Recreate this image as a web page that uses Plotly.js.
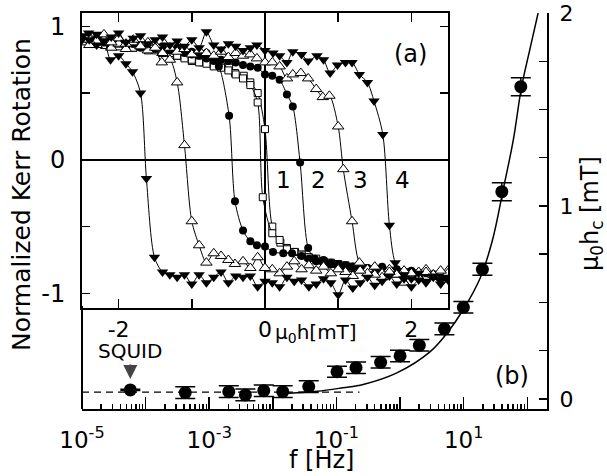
<!DOCTYPE html>
<html>
<head>
<meta charset="utf-8">
<script src="https://cdn.plot.ly/plotly-3.0.1.min.js"></script>
<style>html,body{margin:0;padding:0;background:#fff;}#chart{width:607px;height:476px;}</style>
</head>
<body>
<div id="chart"></div>
<script>
// ---------- (b) coercive field vs frequency ----------
const freqHz = [5.75e-5, 4.2e-4, 2.03e-3, 3.7e-3, 7.2e-3, 0.0143, 0.0367, 0.102, 0.203, 0.495, 1.0, 2.01, 4.98, 9.9, 19.7, 39.8, 79.1];
const hcMilliTesla = [0.047, 0.033, 0.038, 0.021, 0.043, 0.038, 0.064, 0.141, 0.162, 0.19, 0.223, 0.278, 0.363, 0.475, 0.672, 1.074, 1.618];
const hcError = [0.003, 0.03, 0.03, 0.03, 0.03, 0.03, 0.03, 0.028, 0.03, 0.03, 0.03, 0.03, 0.03, 0.03, 0.031, 0.047, 0.047];

const fitFreq = [0.0178, 0.05, 0.126, 0.263, 0.891, 2.95, 5.5, 9.77, 18.2, 28.2, 41.7, 60.3, 81.3, 109.6, 148];
const fitHc   = [0.030, 0.040, 0.058, 0.075, 0.135, 0.244, 0.342, 0.461, 0.627, 0.82, 1.083, 1.342, 1.617, 1.81, 2.0];

const squidLineFreq = [1e-5, 0.23];
const squidLineHc = [0.035, 0.035];

// ---------- (a) Kerr hysteresis loops ----------
// loop 4 (filled down triangles)
const h4Up = [-2.5,-2.4,-2.3,-2.2,-2.1,-2.0,-1.9,-1.8,-1.7,-1.6,-1.5,-1.4,-1.3,-1.2,-1.1,-1.0,-0.9,-0.8,-0.7,-0.6,-0.5,-0.4,-0.3,-0.2,-0.11,0,0.11,0.2,0.3,0.38,0.5,0.59,0.71,0.8,0.89,0.99,1.1,1.19,1.29,1.4,1.49,1.61,1.7,1.78,1.9,2.0,2.1,2.2,2.3,2.4,2.5];
const k4Up = [0.93,0.9,0.94,0.89,0.92,0.95,0.88,0.91,0.93,0.87,0.9,0.92,0.86,0.89,0.85,0.9,0.84,0.96,0.86,0.83,0.87,0.85,0.82,0.84,0.86,0.82,0.80,0.78,0.73,0.81,0.79,0.74,0.78,0.75,0.65,0.71,0.73,0.73,0.64,0.58,0.44,0.19,-0.49,-0.77,-0.86,-0.89,-0.85,-0.91,-0.87,-0.9,-0.88];
const h4Dn = [2.5,2.4,2.3,2.2,2.1,2.0,1.9,1.8,1.7,1.6,1.5,1.4,1.3,1.2,1.1,1.0,0.9,0.8,0.7,0.6,0.5,0.4,0.3,0.2,0.1,0,-0.1,-0.2,-0.3,-0.4,-0.5,-0.6,-0.7,-0.8,-0.9,-1.0,-1.1,-1.2,-1.3,-1.4,-1.51,-1.62,-1.7,-1.81,-1.9,-2.0,-2.11,-2.2,-2.3,-2.41,-2.5];
const k4Dn = [-0.9,-0.93,-0.88,-0.92,-0.9,-0.95,-0.89,-0.93,-0.87,-0.91,-0.94,-0.88,-0.92,-0.96,-0.9,-1.01,-0.92,-0.89,-0.93,-0.95,-0.9,-0.91,-0.88,-0.95,-0.92,-0.91,-0.95,-0.87,-0.88,-0.87,-0.92,-0.84,-0.88,-0.92,-0.86,-0.93,-0.86,-0.88,-0.86,-0.84,-0.73,-0.14,0.5,0.66,0.72,0.78,0.75,0.89,0.86,0.95,0.9];
// loop 3 (open up triangles)
const h3Up = [-2.5,-2.4,-2.3,-2.2,-2.1,-2.0,-1.9,-1.8,-1.7,-1.6,-1.5,-1.4,-1.3,-1.2,-1.1,-1.0,-0.9,-0.8,-0.7,-0.6,-0.5,-0.4,-0.3,-0.2,-0.11,0,0.1,0.2,0.3,0.38,0.49,0.59,0.7,0.79,0.88,1.0,1.07,1.19,1.29,1.4,1.5,1.6,1.7,1.8,1.9,2.0,2.1,2.2,2.3,2.4,2.5];
const k3Up = [0.88,0.92,0.86,0.9,0.84,0.87,0.83,0.88,0.85,0.82,0.86,0.8,0.84,0.81,0.83,0.79,0.82,0.8,0.78,0.81,0.77,0.8,0.78,0.79,0.76,0.73,0.73,0.70,0.61,0.64,0.65,0.61,0.53,0.47,0.48,0.25,-0.07,-0.46,-0.77,-0.82,-0.8,-0.85,-0.82,-0.86,-0.83,-0.87,-0.84,-0.82,-0.86,-0.84,-0.83];
const h3Dn = [2.5,2.4,2.3,2.2,2.1,2.0,1.9,1.8,1.7,1.6,1.5,1.4,1.3,1.2,1.1,1.0,0.9,0.8,0.7,0.6,0.5,0.4,0.3,0.2,0.1,0,-0.1,-0.2,-0.3,-0.41,-0.5,-0.6,-0.7,-0.8,-0.9,-1.0,-1.1,-1.2,-1.3,-1.41,-1.5,-1.6,-1.7,-1.8,-1.9,-2.0,-2.1,-2.2,-2.3,-2.4,-2.5];
const k3Dn = [-0.85,-0.83,-0.86,-0.84,-0.88,-0.85,-0.92,-0.86,-0.84,-0.88,-0.86,-0.85,-0.83,-0.87,-0.84,-0.82,-0.85,-0.8,-0.83,-0.79,-0.82,-0.76,-0.8,-0.85,-0.82,-0.81,-0.73,-0.81,-0.76,-0.78,-0.75,-0.72,-0.70,-0.77,-0.64,-0.46,0.11,0.58,0.75,0.73,0.84,0.88,0.85,0.9,0.87,0.91,0.88,0.94,0.89,0.86,0.9];
// loop 2 (filled circles)
const h2Up = [-2.5,-2.4,-2.3,-2.2,-2.1,-2.0,-1.9,-1.8,-1.7,-1.6,-1.5,-1.4,-1.3,-1.2,-1.1,-1.0,-0.9,-0.8,-0.7,-0.6,-0.5,-0.4,-0.3,-0.2,-0.1,0,0.1,0.2,0.3,0.38,0.48,0.59,0.68,0.8,0.9,1.0,1.1,1.2,1.3,1.4,1.5,1.6,1.7,1.8,1.9,2.0,2.1,2.2,2.3,2.4,2.5];
const k2Up = [0.9,0.87,0.91,0.88,0.86,0.89,0.85,0.87,0.84,0.86,0.83,0.85,0.82,0.84,0.8,0.81,0.79,0.8,0.77,0.75,0.74,0.73,0.71,0.7,0.69,0.64,0.63,0.6,0.49,0.40,-0.02,-0.66,-0.74,-0.75,-0.77,-0.78,-0.79,-0.8,-0.79,-0.81,-0.82,-0.8,-0.83,-0.82,-0.84,-0.83,-0.85,-0.84,-0.86,-0.85,-0.87];
const h2Dn = [2.5,2.4,2.3,2.2,2.1,2.0,1.9,1.8,1.7,1.6,1.5,1.4,1.3,1.2,1.1,1.0,0.9,0.8,0.7,0.6,0.5,0.37,0.25,0.11,0,-0.11,-0.2,-0.3,-0.41,-0.49,-0.63,-0.7,-0.8,-0.9,-1.0,-1.1,-1.2,-1.3,-1.4,-1.5,-1.6,-1.7,-1.8,-1.9,-2.0,-2.1,-2.2,-2.3,-2.4,-2.5];
const k2Dn = [-0.88,-0.86,-0.87,-0.85,-0.86,-0.84,-0.85,-0.83,-0.84,-0.82,-0.83,-0.81,-0.82,-0.8,-0.81,-0.79,-0.78,-0.77,-0.76,-0.74,-0.72,-0.70,-0.70,-0.69,-0.65,-0.64,-0.61,-0.53,-0.31,0.33,0.70,0.74,0.76,0.78,0.79,0.81,0.82,0.83,0.84,0.85,0.84,0.86,0.87,0.86,0.88,0.87,0.89,0.88,0.9,0.89];
// loop 1 (open squares)
const h1Up = [-2.5,-2.4,-2.3,-2.2,-2.1,-2.0,-1.9,-1.8,-1.7,-1.6,-1.5,-1.4,-1.3,-1.2,-1.1,-1.0,-0.85,-0.7,-0.6,-0.49,-0.41,-0.29,-0.2,-0.1,0,0.1,0.21,0.3,0.41,0.5,0.59,0.7,0.8,0.9,1.0,1.1,1.2,1.3,1.4,1.5,1.6,1.7,1.8,1.9,2.0,2.1,2.2,2.3,2.4,2.5];
const k1Up = [0.9,0.88,0.89,0.86,0.87,0.85,0.86,0.84,0.85,0.82,0.83,0.8,0.81,0.78,0.77,0.74,0.73,0.71,0.70,0.69,0.65,0.63,0.58,0.50,0.23,-0.50,-0.62,-0.66,-0.69,-0.71,-0.73,-0.75,-0.76,-0.78,-0.79,-0.8,-0.81,-0.82,-0.82,-0.83,-0.84,-0.84,-0.85,-0.85,-0.86,-0.86,-0.87,-0.87,-0.88,-0.88];
const h1Dn = [2.5,2.4,2.3,2.2,2.1,2.0,1.9,1.8,1.7,1.6,1.5,1.4,1.3,1.2,1.1,1.0,0.9,0.8,0.7,0.6,0.5,0.4,0.3,0.2,0.1,-0.03,-0.1,-0.2,-0.3,-0.4,-0.5,-0.6,-0.7,-0.8,-0.9,-1.0,-1.1,-1.2,-1.3,-1.4,-1.5,-1.6,-1.7,-1.8,-1.9,-2.0,-2.1,-2.2,-2.3,-2.4,-2.5];
const k1Dn = [-0.87,-0.88,-0.86,-0.87,-0.85,-0.86,-0.84,-0.85,-0.83,-0.84,-0.82,-0.83,-0.81,-0.8,-0.79,-0.78,-0.77,-0.76,-0.74,-0.73,-0.71,-0.69,-0.67,-0.6,-0.55,-0.28,0.43,0.56,0.61,0.64,0.67,0.69,0.70,0.72,0.73,0.75,0.76,0.78,0.8,0.81,0.82,0.83,0.85,0.84,0.86,0.87,0.86,0.88,0.89,0.88,0.9];

// ---------- tick labels ----------
const decadeVals = [1e-5, 1e-4, 1e-3, 1e-2, 1e-1, 1, 10, 100];
const decadeText = ['10<sup>-5</sup>', '', '10<sup>-3</sup>', '', '10<sup>-1</sup>', '', '10<sup>1</sup>', ''];
const hcTickVals = [0, 0.25, 0.5, 0.75, 1, 1.25, 1.5, 1.75, 2];
const hcTickText = ['0', '', '', '', '1', '', '', '', '2'];
const fieldTickVals = [-2, -1, 0, 1, 2];
const fieldTickText = ['-2', '', '0', '', '2'];
const kerrTickVals = [-1, -0.5, 0, 0.5, 1];
const kerrTickText = ['-1', '', '0', '', '1'];
const loopLabels = ['1', '2', '3', '4'];

const minorVals = [];
for (let e = -5; e <= 2; e++) for (let m = 2; m <= 9; m++) minorVals.push(m * Math.pow(10, e));

const FONT = 'DejaVu Sans, Liberation Sans, sans-serif';
const lineStyle = {color: '#000', width: 1, shape: 'spline', smoothing: 0.8};

function loop(x, y, marker) {
  return {x: x, y: y, xaxis: 'x2', yaxis: 'y2', type: 'scatter', mode: 'lines+markers',
          line: lineStyle, marker: marker, hoverinfo: 'skip'};
}
const mSquare = {symbol: 'square', size: 7, color: '#fff', line: {color: '#000', width: 1}};
const mCircle = {symbol: 'circle', size: 8, color: '#000'};
const mTriUp = {symbol: 'triangle-up', size: 10, color: '#fff', line: {color: '#000', width: 1}};
const mTriDn = {symbol: 'triangle-down', size: 10, color: '#000'};

const traces = [
  loop(h1Up, k1Up, mSquare), loop(h1Dn, k1Dn, mSquare),
  loop(h2Up, k2Up, mCircle), loop(h2Dn, k2Dn, mCircle),
  loop(h3Up, k3Up, mTriUp), loop(h3Dn, k3Dn, mTriUp),
  loop(h4Up, k4Up, mTriDn), loop(h4Dn, k4Dn, mTriDn),
  {x: squidLineFreq, y: squidLineHc, xaxis: 'x', yaxis: 'y', mode: 'lines',
   line: {color: '#000', width: 1.2, dash: '7px,5px'}},
  {x: fitFreq, y: fitHc, xaxis: 'x', yaxis: 'y', mode: 'lines',
   line: {color: '#000', width: 1.5, shape: 'spline'}},
  {x: freqHz, y: hcMilliTesla, xaxis: 'x', yaxis: 'y', mode: 'markers',
   marker: {symbol: 'circle', size: 13, color: '#000'},
   error_y: {type: 'data', array: hcError, visible: true, width: 10, thickness: 1.5, color: '#000'}}
];

// pixel helpers for the plot area (l=82, t=13, w=465, h=396)
const px = v => (v - 82) / 465;
const py = v => (409 - v) / 396;
function label(x, y, text, size, extra) {
  return Object.assign({xref: 'paper', yref: 'paper', x: px(x), y: py(y), text: text, showarrow: false,
                        xanchor: 'center', yanchor: 'middle', font: {size: size}}, extra || {});
}

const annotations = [
  label(410, 54, '(a)', 24),
  label(512, 376, '(b)', 24),
  label(283, 180, loopLabels[0], 23),
  label(318, 180, loopLabels[1], 23),
  label(360, 180, loopLabels[2], 23),
  label(402, 180, loopLabels[3], 23),
  label(273, 333, '\u03bc<sub>0</sub>h[mT]', 20, {xanchor: 'left'}),
  label(321, 460, 'f [Hz]', 24),
  label(22, 195, 'Normalized Kerr Rotation', 25, {textangle: -90}),
  label(591, 214, '\u03bc<sub>0</sub>h<sub>c</sub> [mT]', 24, {textangle: -90}),
  {xref: 'x', yref: 'y', x: Math.log10(freqHz[0]), y: hcMilliTesla[0], text: 'SQUID', showarrow: true,
   arrowhead: 2, arrowsize: 1.4, arrowwidth: 2, ax: 0, ay: -39, standoff: 11, font: {size: 20}}
];

const axisCommon = {showline: true, linewidth: 2, linecolor: '#000', ticks: 'inside', tickcolor: '#000',
                    tickwidth: 1.5, showgrid: false, tickmode: 'array'};

const layout = {
  width: 607, height: 476,
  margin: {l: 82, r: 60, t: 13, b: 67, pad: 0},
  font: {family: FONT, size: 22, color: '#000'},
  paper_bgcolor: '#fff', plot_bgcolor: 'rgba(0,0,0,0)',
  showlegend: false,
  xaxis: Object.assign({}, axisCommon, {type: 'log', domain: [0, 1], range: [-5, 2.31], anchor: 'y',
    ticklen: 12, tickvals: decadeVals, ticktext: decadeText, tickfont: {size: 23}, ticklabelstandoff: 9,
    zeroline: false,
    minor: {tickmode: 'array', tickvals: minorVals, ticks: 'inside', ticklen: 5, tickwidth: 1.5, tickcolor: '#000', showgrid: false}}),
  yaxis: Object.assign({}, axisCommon, {domain: [0, 1], range: [-0.052, 2.0], anchor: 'x', side: 'right',
    ticklen: 8, tickvals: hcTickVals, ticktext: hcTickText, tickfont: {size: 22}, ticklabelstandoff: 6, zeroline: false}),
  xaxis2: Object.assign({}, axisCommon, {domain: [0, 0.787], range: [-2.5, 2.5], anchor: 'y2', mirror: 'allticks',
    ticklen: 9, tickvals: fieldTickVals, ticktext: fieldTickText, tickfont: {size: 22}, ticklabelstandoff: 1,
    zeroline: true, zerolinewidth: 2.5, zerolinecolor: '#000'}),
  yaxis2: Object.assign({}, axisCommon, {domain: [0.255, 1], range: [-1.11, 1.10], anchor: 'x2', mirror: 'allticks',
    ticklen: 8, tickvals: kerrTickVals, ticktext: kerrTickText, tickfont: {size: 24}, ticklabelstandoff: 10,
    zeroline: true, zerolinewidth: 1.5, zerolinecolor: '#000'}),
  shapes: [{type: 'line', xref: 'paper', yref: 'paper', x0: 0, x1: 0, y0: 0, y1: 0.26, line: {color: '#000', width: 2}}],
  annotations: annotations
};

Plotly.newPlot('chart', traces, layout, {displayModeBar: false, staticPlot: true});
</script>
</body>
</html>
